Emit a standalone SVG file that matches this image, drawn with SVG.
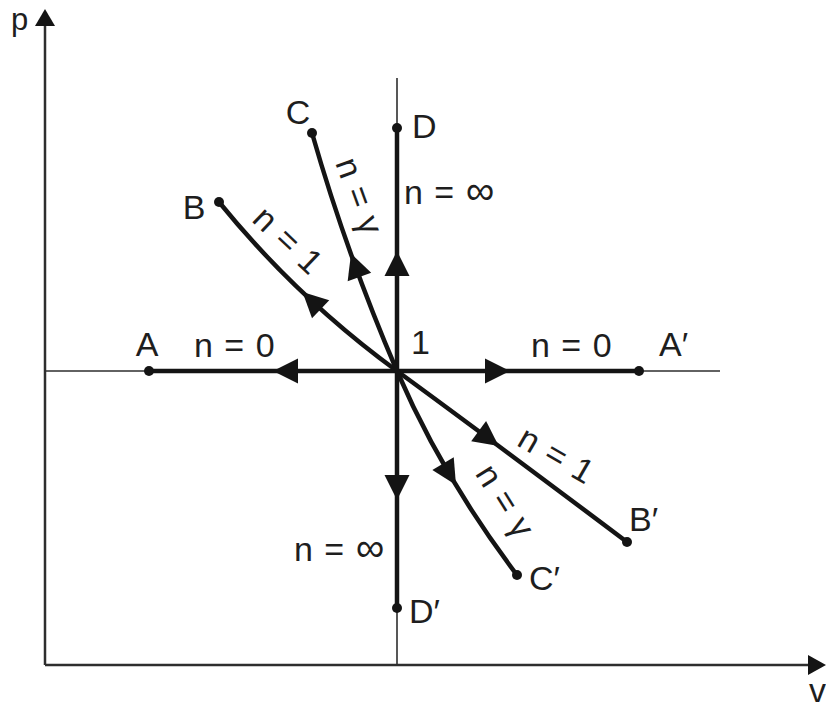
<svg xmlns="http://www.w3.org/2000/svg" xmlns:xlink="http://www.w3.org/1999/xlink" width="826" height="709" viewBox="0 0 826 709">
<style>
text{font-family:"Liberation Sans",Arial,sans-serif;font-size:34px;fill:#1e1e1e;word-spacing:2px}
.axis{stroke:#2e2e2e;stroke-width:2.5;fill:none}
.thin{stroke:#2e2e2e;stroke-width:1.6;fill:none}
.thick{stroke:#141414;stroke-width:4.5;fill:none;stroke-linecap:round}
.dot{fill:#141414}
.ah{fill:#141414}
</style>
<defs>
<path id="ah" d="M0,0 L-25,-12.5 L-25,12.5 Z"/>
</defs>
<rect width="826" height="709" fill="#fff"/>
<g id="axes">
<line class="axis" x1="45" y1="665" x2="45" y2="22"/>
<line class="axis" x1="45" y1="665" x2="812" y2="665"/>
<polygon class="ah" points="45,9 35,26 55,26"/>
<polygon class="ah" points="826,665 808,655 808,675"/>
<text x="11" y="30" style="font-size:31px">p</text>
<text x="809" y="702">v</text>
</g>
<g id="connectors">
<line class="thin" x1="45" y1="371" x2="720" y2="371"/>
<line class="thin" x1="397" y1="78" x2="397" y2="665"/>
<line class="thick" x1="149" y1="371" x2="639" y2="371"/>
<line class="thick" x1="397" y1="128" x2="397" y2="608"/>
<path class="thick" d="M219,202 Q297,298 397,371 Q490,439 627,542"/>
<path class="thick" d="M312,133 Q347,255 397,371 Q442.5,476.6 517,575"/>
<use href="#ah" class="ah" transform="translate(273,371) rotate(180)"/>
<use href="#ah" class="ah" transform="translate(510,371)"/>
<use href="#ah" class="ah" transform="translate(397,251) rotate(-90)"/>
<use href="#ah" class="ah" transform="translate(397,500) rotate(90)"/>
<use href="#ah" class="ah" transform="translate(302.5,292) rotate(-136.5)"/>
<use href="#ah" class="ah" transform="translate(351,253.5) rotate(-109.7)"/>
<use href="#ah" class="ah" transform="translate(498.7,446) rotate(36.6)"/>
<use href="#ah" class="ah" transform="translate(456,485) rotate(58.8)"/>
</g>
<g id="origin"><text x="411" y="354">1</text></g>
<g id="A"><circle class="dot" cx="149" cy="371" r="5"/><text x="147" y="356" text-anchor="middle">A</text></g>
<g id="A2"><circle class="dot" cx="639" cy="371" r="5"/><text x="659" y="356">A′</text></g>
<g id="B"><circle class="dot" cx="219" cy="202" r="5"/><text x="194" y="219" text-anchor="middle">B</text></g>
<g id="B2"><circle class="dot" cx="627" cy="542" r="5"/><text x="629" y="531">B′</text></g>
<g id="C"><circle class="dot" cx="312" cy="133" r="5"/><text x="298" y="124" text-anchor="middle">C</text></g>
<g id="C2"><circle class="dot" cx="517" cy="575" r="5"/><text x="529" y="590">C′</text></g>
<g id="D"><circle class="dot" cx="397" cy="128" r="5"/><text x="412" y="138">D</text></g>
<g id="D2"><circle class="dot" cx="397" cy="608" r="5"/><text x="409" y="623">D′</text></g>
<g id="labels">
<text x="194" y="357">n = 0</text>
<text x="531" y="357">n = 0</text>
<text x="404" y="204">n = <tspan style="font-size:40px">∞</tspan></text>
<text x="294" y="561">n = <tspan style="font-size:40px">∞</tspan></text>
<text x="280" y="248.5" text-anchor="middle" transform="rotate(43.5 280 248.5)">n = 1</text>
<text x="348.5" y="199.7" text-anchor="middle" transform="rotate(70 348.5 199.7)">n = γ</text>
<text x="550.5" y="464.8" text-anchor="middle" transform="rotate(30 550.5 464.8)">n = 1</text>
<text x="495.4" y="506.8" text-anchor="middle" transform="rotate(58 495.4 506.8)">n = γ</text>
</g>
</svg>
